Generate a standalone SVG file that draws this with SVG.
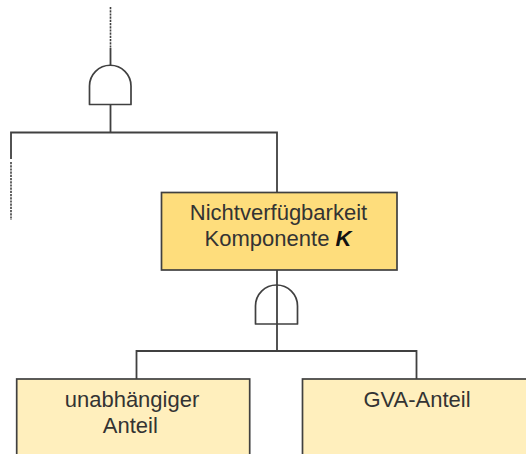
<svg xmlns="http://www.w3.org/2000/svg" width="526" height="454" viewBox="0 0 526 454">
<style>
.l{fill:none;stroke:#404040;stroke-width:1.8}
.d{fill:none;stroke:#404040;stroke-width:1.6;stroke-dasharray:2.2 1}
.b{stroke:#404040;stroke-width:1.7}
.g{fill:#fff;stroke:#404040;stroke-width:1.7;stroke-linejoin:round}
text{font-family:"Liberation Sans",Arial,sans-serif;font-size:22px;fill:#333;text-anchor:middle}
</style>
<rect width="526" height="454" fill="#fff"/>
<g id="connectors">
<path class="d" d="M110.500 7V48"/>
<path class="l" d="M110.500 48V65M110.500 104V132.500M11 159V132.500H277V192"/>
<path class="d" d="M11 162V220"/>
<path class="l" d="M136.500 379V351H416.500V379"/>
</g>
<g id="gate-top"><path class="g" d="M89.500 104.500V86A20.750 20.750 0 0 1 131 86V104.500Z"/></g>
<g id="node-k">
<rect class="b" x="161.500" y="192.500" width="235.500" height="77.500" fill="#fedd7c"/>
<text x="278.500" y="220">Nichtverfügbarkeit</text>
<text x="278" y="245.500">Komponente <tspan font-weight="bold" font-style="italic" fill="#111">K</tspan></text>
</g>
<g id="gate-bottom"><path class="g" d="M255.500 324V306A21 21 0 0 1 297.500 306V324Z"/><path class="l" d="M277 270V351"/></g>
<g id="node-independent">
<rect class="b" x="16.700" y="379" width="233" height="90" fill="#ffefbd"/>
<text x="132" y="407">unabhängiger</text>
<text x="130.300" y="433">Anteil</text>
</g>
<g id="node-gva">
<rect class="b" x="302.500" y="379" width="240" height="90" fill="#ffefbd"/>
<text x="417" y="407">GVA-Anteil</text>
</g>
</svg>
